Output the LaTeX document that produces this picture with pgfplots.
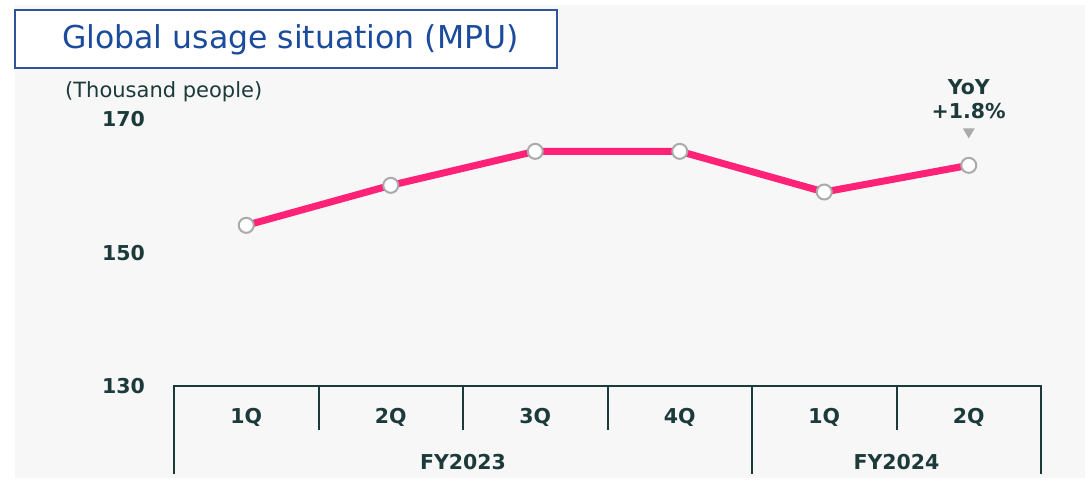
\documentclass[border=0pt]{standalone}
\usepackage{pgfplots}
\pgfplotsset{compat=1.18}
\usepackage{fontspec}
\setmainfont{DejaVu Sans}
\definecolor{pinkline}{HTML}{FF2277}
\definecolor{darktxt}{HTML}{1C3A3A}
\definecolor{titleblue}{HTML}{1A4B9C}
\definecolor{boxblue}{HTML}{2F5597}
\definecolor{panel}{HTML}{F7F7F7}
\definecolor{mkgray}{HTML}{AAAAAA}
\newcommand{\lblfont}{\bfseries\fontsize{20.5}{24}\selectfont}
\begin{document}
\begin{tikzpicture}[x=1pt,y=1pt]
\fill[white] (0,0) rectangle (1092,480);
\fill[panel] (15,2) rectangle (1085,475);
\draw[boxblue, line width=1.5pt, fill=white] (15,412) rectangle (557,470);
\node[font=\fontsize{31.5}{36}\selectfont, text=titleblue, anchor=west, inner sep=0] at (62,440) {Global usage situation (MPU)};
\node[font=\fontsize{21}{25}\selectfont, text=darktxt, anchor=west, inner sep=0] at (65,388) {(Thousand people)};
\begin{axis}[at={(174pt,94pt)}, anchor=south west, scale only axis,
  width=867pt, height=300pt,
  xmin=0, xmax=6, ymin=130, ymax=175,
  clip=false,
  axis lines*=left,
  y axis line style={draw=none},
  x axis line style={draw=darktxt, line width=2pt},
  major tick length=0pt,
  /pgf/number format/assume math mode=true,
  ytick={130,150,170},
  yticklabel style={font=\lblfont, text=darktxt, anchor=east, inner sep=0pt, xshift=-29pt},
  xtick={0.5,1.5,2.5,3.5,4.5,5.5},
  xticklabels={1Q,2Q,3Q,4Q,1Q,2Q},
  xticklabel style={font=\lblfont, text=darktxt, anchor=center, inner sep=0pt, yshift=-31pt},
]
\addplot[pinkline, line width=7pt, mark=*, mark size=7.5pt,
  mark options={fill=white, draw=mkgray, line width=2pt}]
  coordinates {(0.5,154.1)(1.5,160.1)(2.5,165.2)(3.5,165.2)(4.5,159.1)(5.5,163.1)};
\pgfplotsinvokeforeach{1,2,3,5}{
  \draw[darktxt, line width=2pt] (axis cs:#1,130) -- ++(0pt,-44pt);
}
\pgfplotsinvokeforeach{0,4,6}{
  \draw[darktxt, line width=2pt] (axis cs:#1,130) ++(0pt,1pt) -- ++(0pt,-89pt);
}
\node[font=\lblfont, text=darktxt] at (axis cs:2,130) [yshift=-76pt] {FY2023};
\node[font=\lblfont, text=darktxt] at (axis cs:5,130) [yshift=-76pt] {FY2024};
\node[font=\lblfont, text=darktxt] at (axis cs:5.5,163.1) [yshift=78pt] {YoY};
\node[font=\lblfont, text=darktxt] at (axis cs:5.5,163.1) [yshift=54pt] {+1.8\%};
\fill[mkgray] (axis cs:5.5,163.1) ++(-6pt,37pt) -- ++(12pt,0pt) -- ++(-6pt,-10pt) -- cycle;
\end{axis}
\end{tikzpicture}
\end{document}
